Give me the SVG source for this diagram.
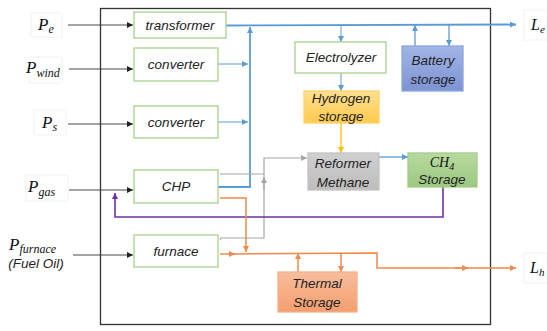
<svg xmlns="http://www.w3.org/2000/svg" width="547" height="331" viewBox="0 0 547 331">
<defs>
<style>
.box{stroke-width:1.3}
.g{fill:#ffffff;stroke:#a9d18e}
.t{font-family:"Liberation Sans",Arial,sans-serif;font-style:italic;font-size:13.5px;fill:#222;text-anchor:middle}
.m{font-family:"Liberation Serif","Times New Roman",serif;font-style:italic;fill:#111}
.lbl{fill:#ffffff;stroke:#f2f2f2;stroke-width:1}
.blk{stroke:#333;stroke-width:0.9;fill:none}
.blu{stroke:#5b9bd5;fill:none}
.org{stroke:#f08a4b;stroke-width:1.5;fill:none}
.gry{stroke:#a6a6a6;stroke-width:1.2;fill:none}
.pur{stroke:#7030a0;stroke-width:1.6;fill:none}
.yel{stroke:#ffc000;stroke-width:1.3;fill:none}
</style>
<marker id="aK" viewBox="0 0 10 10" refX="10" refY="5" markerWidth="6" markerHeight="6" markerUnits="userSpaceOnUse" orient="auto"><path d="M0,0L10,5L0,10z" fill="#222"/></marker>
<marker id="aB" viewBox="0 0 10 10" refX="10" refY="5" markerWidth="6" markerHeight="6" markerUnits="userSpaceOnUse" orient="auto"><path d="M0,0L10,5L0,10z" fill="#5b9bd5"/></marker>
<marker id="aO" viewBox="0 0 10 10" refX="10" refY="5" markerWidth="6" markerHeight="6" markerUnits="userSpaceOnUse" orient="auto"><path d="M0,0L10,5L0,10z" fill="#f08a4b"/></marker>
<marker id="aG" viewBox="0 0 10 10" refX="10" refY="5" markerWidth="6" markerHeight="6" markerUnits="userSpaceOnUse" orient="auto"><path d="M0,0L10,5L0,10z" fill="#a6a6a6"/></marker>
<marker id="aP" viewBox="0 0 10 10" refX="10" refY="5" markerWidth="6" markerHeight="6" markerUnits="userSpaceOnUse" orient="auto"><path d="M0,0L10,5L0,10z" fill="#7030a0"/></marker>
<marker id="aY" viewBox="0 0 10 10" refX="10" refY="5" markerWidth="6" markerHeight="6" markerUnits="userSpaceOnUse" orient="auto"><path d="M0,0L10,5L0,10z" fill="#ffc000"/></marker>
<linearGradient id="gH" x1="0" y1="0" x2="0" y2="1"><stop offset="0" stop-color="#ffe08f"/><stop offset="1" stop-color="#ffc94f"/></linearGradient>
<linearGradient id="gB" x1="0" y1="0" x2="0" y2="1"><stop offset="0" stop-color="#a3b5e6"/><stop offset="1" stop-color="#7c93d4"/></linearGradient>
<linearGradient id="gC" x1="0" y1="0" x2="0" y2="1"><stop offset="0" stop-color="#b7da9f"/><stop offset="1" stop-color="#9cc880"/></linearGradient>
<linearGradient id="gT" x1="0" y1="0" x2="0" y2="1"><stop offset="0" stop-color="#f9bd9c"/><stop offset="1" stop-color="#f39f6e"/></linearGradient>
<linearGradient id="gR" x1="0" y1="0" x2="0" y2="1"><stop offset="0" stop-color="#cfcfcf"/><stop offset="1" stop-color="#bdbdbd"/></linearGradient>
</defs>
<rect width="547" height="331" fill="#ffffff"/>
<rect x="100.5" y="8.5" width="390" height="316" fill="none" stroke="#333" stroke-width="1.3"/>

<g id="labels">
<rect class="lbl" x="31" y="13" width="31" height="24"/>
<text class="m" x="38" y="30" font-size="17">P<tspan font-size="12" dy="3">e</tspan></text>
<rect class="lbl" x="29" y="57" width="33" height="26"/>
<text class="m" x="26" y="73" font-size="17">P<tspan font-size="12" dy="4">wind</tspan></text>
<rect class="lbl" x="34" y="110" width="32" height="25"/>
<text class="m" x="42" y="128" font-size="17">P<tspan font-size="12" dy="3">s</tspan></text>
<rect class="lbl" x="26" y="175" width="42" height="26"/>
<text class="m" x="28" y="192" font-size="17">P<tspan font-size="12" dy="4">gas</tspan></text>
<text class="m" x="9" y="250" font-size="17">P<tspan font-size="12" dy="3">furnace</tspan></text>
<text class="t" x="36" y="268">(Fuel Oil)</text>
<rect class="lbl" x="524" y="10" width="23" height="30"/>
<text class="m" x="531" y="30" font-size="16">L<tspan font-size="11" dy="3">e</tspan></text>
<rect class="lbl" x="524" y="253" width="23" height="30"/>
<text class="m" x="530" y="273" font-size="16">L<tspan font-size="11" dy="3">h</tspan></text>
</g>

<g id="connectors">
<line class="blk" x1="68" y1="25" x2="133" y2="25" marker-end="url(#aK)"/>
<line class="blk" x1="69" y1="69" x2="133" y2="69" marker-end="url(#aK)"/>
<line class="blk" x1="68" y1="124" x2="133" y2="124" marker-end="url(#aK)"/>
<line class="blk" x1="69" y1="190" x2="133" y2="190" marker-end="url(#aK)"/>
<line class="blk" x1="73" y1="255" x2="133" y2="255" marker-end="url(#aK)"/>

<line class="blu" stroke-width="1.8" x1="226" y1="25.5" x2="516" y2="24.5" marker-end="url(#aB)"/>
<polyline class="blu" stroke-width="1.8" points="218,187 250,187 250,27" marker-end="url(#aB)"/>
<line class="blu" stroke-width="1" x1="218" y1="64" x2="248" y2="64" marker-end="url(#aB)"/>
<line class="blu" stroke-width="1" x1="218" y1="122" x2="248" y2="122" marker-end="url(#aB)"/>
<line class="blu" stroke-width="1" x1="341" y1="26" x2="341" y2="42" marker-end="url(#aB)"/>
<line class="blu" stroke-width="1" x1="341" y1="73" x2="341" y2="91" marker-end="url(#aB)"/>
<line class="blu" stroke-width="1.3" x1="415" y1="46" x2="415" y2="25" marker-end="url(#aB)"/>
<line class="blu" stroke-width="1.3" x1="449" y1="25" x2="449" y2="46" marker-end="url(#aB)"/>
<line class="blu" stroke-width="1.3" x1="379" y1="157" x2="408" y2="157" marker-end="url(#aB)"/>

<line class="yel" x1="341" y1="123" x2="341" y2="153" marker-end="url(#aY)"/>

<polyline class="gry" points="220,174 264,174"/>
<polyline class="gry" points="220,240 221,238 264,238 264,158 307,158" marker-end="url(#aG)"/>
<line class="gry" x1="264" y1="190" x2="264" y2="177" marker-end="url(#aG)"/>

<polyline class="pur" points="443,187 443,217 115,217 115,193" marker-end="url(#aP)"/>

<polyline class="org" points="220,198 246,198 246,252" marker-end="url(#aO)"/>
<line class="org" x1="220" y1="254" x2="235" y2="254" marker-end="url(#aO)"/>
<polyline class="org" points="230,254 377,253 377,268 516,268" marker-end="url(#aO)"/>
<line class="org" x1="455" y1="268" x2="468" y2="268" marker-end="url(#aO)"/>
<line class="org" x1="298" y1="272" x2="298" y2="253" marker-end="url(#aO)"/>
<line class="org" x1="341" y1="253" x2="341" y2="272" marker-end="url(#aO)"/>
</g>

<g id="transformer"><rect class="box g" x="134" y="12" width="92" height="26"/><text class="t" x="180" y="30">transformer</text></g>
<g id="converter1"><rect class="box g" x="134" y="48" width="84" height="33"/><text class="t" x="176" y="69">converter</text></g>
<g id="converter2"><rect class="box g" x="134" y="106" width="84" height="32"/><text class="t" x="176" y="127">converter</text></g>
<g id="chp"><rect class="box g" x="134" y="170" width="84" height="33"/><text class="t" x="176" y="191">CHP</text></g>
<g id="furnace"><rect class="box g" x="134" y="235" width="84" height="32"/><text class="t" x="176" y="256">furnace</text></g>
<g id="electrolyzer"><rect class="box g" x="295" y="42" width="91" height="31"/><text class="t" x="341" y="62">Electrolyzer</text></g>
<g id="hydrogen"><rect class="box" x="304" y="91" width="75" height="32" fill="url(#gH)" stroke="#ffd36b"/><text class="t" x="341" y="103">Hydrogen</text><text class="t" x="341" y="121">storage</text></g>
<g id="battery"><rect class="box" x="402" y="46" width="61" height="45" fill="url(#gB)" stroke="#8ea6dc"/><text class="t" x="433" y="65">Battery</text><text class="t" x="433" y="84">storage</text></g>
<g id="reformer"><rect class="box" x="308" y="153" width="71" height="37" fill="url(#gR)" stroke="#c4c4c4"/><text class="t" x="343" y="168">Reformer</text><text class="t" x="343" y="187">Methane</text></g>
<g id="ch4"><rect class="box" x="408" y="153" width="69" height="34" fill="url(#gC)" stroke="#a3cd87"/><text class="m" x="442" y="167" font-size="14" text-anchor="middle">CH<tspan font-size="10" dy="3">4</tspan></text><text class="t" x="442" y="184">Storage</text></g>
<g id="thermal"><rect class="box" x="278" y="272" width="79" height="40" fill="url(#gT)" stroke="#f4b08a"/><text class="t" x="317" y="288">Thermal</text><text class="t" x="317" y="307">Storage</text></g>
</svg>
